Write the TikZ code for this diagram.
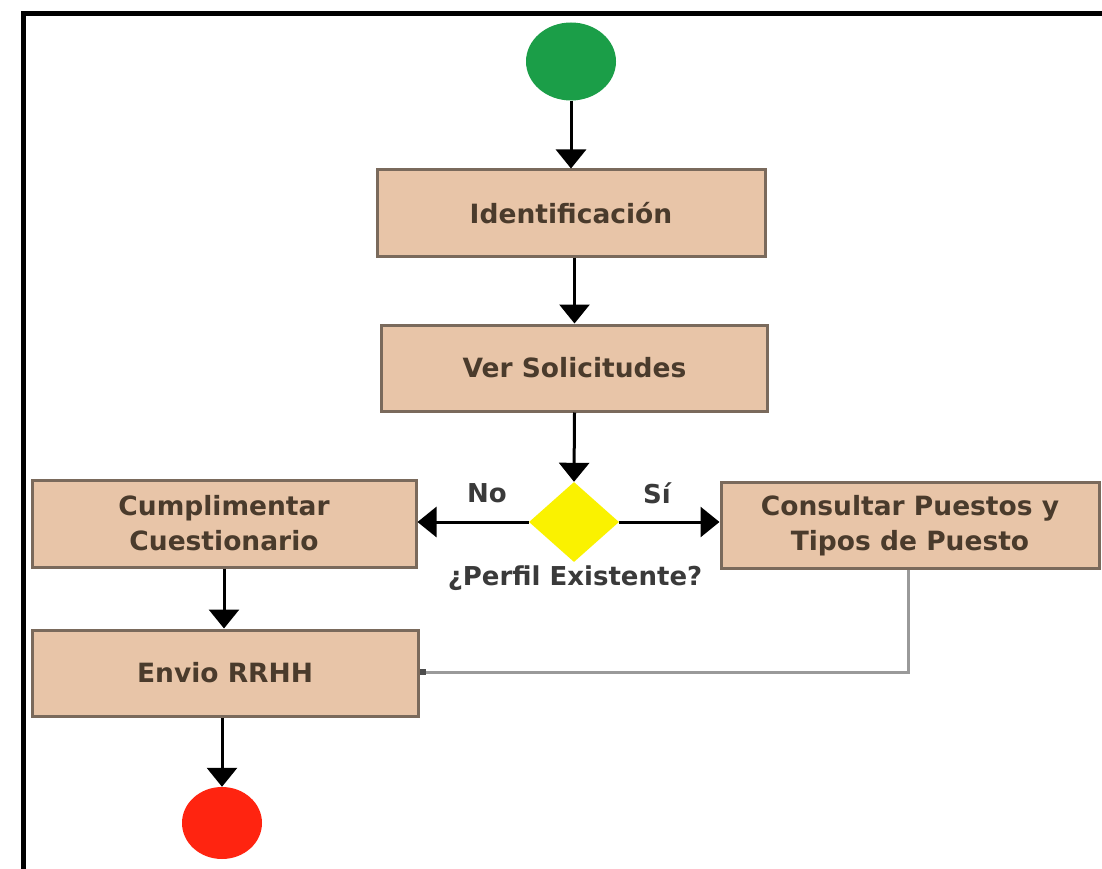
\documentclass[tikz,border=0pt]{standalone}
\usepackage{fontspec}
\setmainfont{DejaVu Sans}
\usetikzlibrary{arrows.meta,shapes.geometric}
\definecolor{boxfill}{HTML}{E8C5A8}
\definecolor{boxline}{HTML}{7A6A5C}
\definecolor{boxtext}{HTML}{4A3B2C}
\definecolor{labeltext}{HTML}{3A3A3A}
\definecolor{startgreen}{HTML}{1B9E48}
\definecolor{endred}{HTML}{FF2410}
\definecolor{decyellow}{HTML}{FAF200}
\definecolor{joinline}{HTML}{9A9A9A}
\tikzset{
  x=1pt, y=-1pt,
  stepbox/.style={draw=boxline, line width=3pt, fill=boxfill, inner sep=0pt,
    text=boxtext, align=center, font=\bfseries\fontsize{26.5}{35}\selectfont},
  startnode/.style={ellipse, fill=startgreen, inner sep=0pt},
  endnode/.style={ellipse, fill=endred, inner sep=0pt},
  decision/.style={diamond, fill=decyellow, inner sep=0pt, aspect=1.1},
  flow/.style={draw=black, line width=3pt,
    -{Triangle[length=19pt, width=30pt]}},
  lbl/.style={text=labeltext, font=\bfseries\fontsize{26}{30}\selectfont, inner sep=0pt},
  returnline/.style={draw=joinline, line width=3pt,
    -{Square[length=6pt, width=6pt, fill=black!70, color=black!70]}},
}
\begin{document}
\begin{tikzpicture}
  \useasboundingbox (0,0) rectangle (1102,869);
  \fill[white] (0,0) rectangle (1102,869);
  % frame
  \draw[line width=5.5pt, line join=miter] (23.5,869) -- (23.5,13.5) -- (1102,13.5);

  % nodes
  \node[startnode, minimum width=90pt, minimum height=78pt] (start) at (571,61.5) {};
  \node[stepbox, minimum width=388pt, minimum height=86pt] (ident) at (571,213) {Identificación};
  \node[stepbox, minimum width=386pt, minimum height=86pt] (ver) at (574.5,368) {Ver Solicitudes};
  \node[decision, minimum width=90pt, minimum height=80pt] (dec) at (574,522) {};
  \node[stepbox, minimum width=384pt, minimum height=87pt] (cump) at (224,523.5) {Cumplimentar\\Cuestionario};
  \node[stepbox, minimum width=378pt, minimum height=86pt] (cons) at (910,525.5) {Consultar Puestos y\\Tipos de Puesto};
  \node[stepbox, minimum width=386pt, minimum height=86pt] (envio) at (225,673) {Envio RRHH};
  \node[endnode, minimum width=80pt, minimum height=72pt] (fin) at (222,823) {};

  % labels
  \node[lbl] (no) at (487,493) {No};
  \node[lbl] (si) at (657,493) {Sí};
  \node[lbl] (perfil) at (575,578) {¿Perfil Existente?};

  % connectors
  \draw[flow] (start) -- (ident);
  \draw[flow] (ident.south -| ver.north) -- (ver.north);
  \draw[flow] (ver.south) -- (dec.north);
  \draw[flow] (dec.west) -- (cump.east |- dec.west);
  \draw[flow] (dec.east) -- (cons.west |- dec.east);
  \draw[flow] (cump.south) -- (envio.north -| cump.south);
  \draw[flow] (envio.south -| fin.north) -- (fin.north);
  \coordinate (bend) at (908,672);
  \draw[returnline] (cons.south -| bend) -- (bend) -- (envio.east |- bend);
\end{tikzpicture}
\end{document}
